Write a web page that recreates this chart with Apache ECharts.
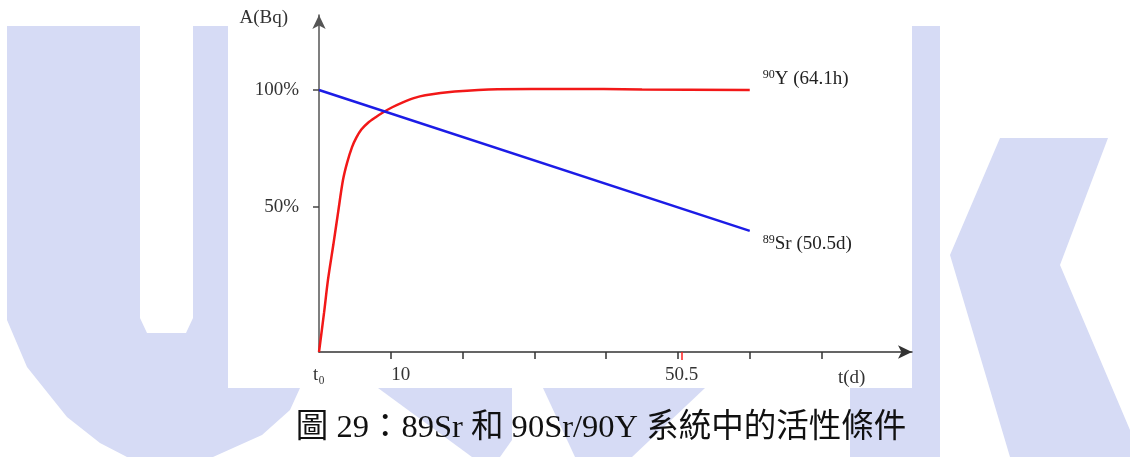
<!DOCTYPE html>
<html>
<head>
<meta charset="utf-8">
<script src="https://cdn.jsdelivr.net/npm/echarts@6/dist/echarts.min.js"></script>
<style>html,body{margin:0;padding:0;background:#fff}#c{width:1130px;height:457px}</style>
</head>
<body>
<div id="c"></div>
<script>
// ---- data (t in days, A relative to the 100% level, origin = 0) ----
var y90T = [0, 0.7, 1.25, 2.0, 2.65, 3.34, 3.9, 4.6, 5.2, 5.9, 6.8, 7.9, 8.9, 10.2, 11.6, 13.2, 14.8, 18.9, 24.9, 34.3, 45, 60];
var y90A = [0, 14.9, 27.5, 41.0, 53.1, 65.6, 72.1, 78.2, 81.8, 84.9, 87.4, 89.6, 91.4, 93.4, 95.2, 96.9, 98.0, 99.4, 100.3, 100.4, 100.2, 100];
var sr89T = [0, 60];
var sr89A = [100, 46.2];
var xTickValues = [10, 20, 30, 40, 50, 60, 70];
var xLabelValues = [0, 10, 50.5];
var xLabelTexts = ['t\u2080', '10', '50.5'];
var halfLifeTick = [50.5];
var yTickValues = [55.3, 100];
var yTickLabels = ['50%', '100%'];
var y90Label = '{s|90}Y (64.1h)';
var sr89Label = '{s|89}Sr (50.5d)';
var caption = '圖 29：89Sr 和 90Sr/90Y 系統中的活性條件';

function pairs(t, a) { return t.map(function (v, i) { return [v, a[i]]; }); }

var SERIF = '"Liberation Serif", "DejaVu Serif", "Noto Sans CJK TC", serif';
var WM = '#d6dbf5';
var chart = echarts.init(document.getElementById('c'));
var labelRich = { s: { fontSize: 12, fontFamily: SERIF, color: '#222', padding: [0, 0, 8, 0] } };

chart.setOption({
  backgroundColor: '#fff',
  animation: false,
  graphic: [
    { type: 'polygon', z: -10, silent: true, style: { fill: WM },
      shape: { points: [[7,26],[140,26],[140,318],[147,333],[186,333],[193,318],[193,26],[228,26],[228,388],[300,388],[290,410],[262,435],[213,457],[127,457],[100,443],[67,417],[27,367],[7,320]] } },
    { type: 'polygon', z: -10, silent: true, style: { fill: WM },
      shape: { points: [[378,388],[512,388],[512,440],[500,457],[472,457]] } },
    { type: 'polygon', z: -10, silent: true, style: { fill: WM },
      shape: { points: [[543,388],[705,388],[632,457],[575,457]] } },
    { type: 'polygon', z: -10, silent: true, style: { fill: WM },
      shape: { points: [[850,388],[912,388],[912,26],[940,26],[940,457],[850,457]] } },
    { type: 'polygon', z: -10, silent: true, style: { fill: WM },
      shape: { points: [[1000,138],[1108,138],[1060,265],[1130,430],[1130,457],[1010,457],[950,255]] } },
    { type: 'rect', z: -9, silent: true, shape: { x: 228, y: 0, width: 684, height: 388 }, style: { fill: '#fff' } },
    { type: 'text', z: 5, silent: true, x: 601, y: 428,
      style: { text: caption, font: '32.5px ' + SERIF, fill: '#111', align: 'center', verticalAlign: 'middle' } }
  ],
  grid: { left: 319, top: 15, width: 593, height: 337, containLabel: false },
  xAxis: [{
    type: 'value', min: 0, max: 82.6,
    name: 't(d)', nameLocation: 'end', nameGap: -74,
    nameTextStyle: { fontFamily: SERIF, fontSize: 19, color: '#333', align: 'left', verticalAlign: 'top', padding: [17, 0, 0, 0] },
    axisLine: { show: true, symbol: ['none', 'arrow'], symbolSize: [10, 14], lineStyle: { color: '#333', width: 1.5 } },
    axisTick: { show: true, customValues: xTickValues, length: 7, lineStyle: { color: '#333', width: 1.5 } },
    axisLabel: {
      show: true, customValues: xLabelValues, margin: 14,
      fontFamily: SERIF, fontSize: 19, color: '#333',
      formatter: function (v) {
        var i = xLabelValues.indexOf(v);
        var s = i >= 0 ? xLabelTexts[i] : '';
        return v === 10 ? '{p|' + s + '}' : s;
      },
      rich: { p: { fontFamily: SERIF, fontSize: 19, color: '#333', padding: [0, 0, 0, 20] } }
    },
    splitLine: { show: false }
  }, {
    type: 'value', min: 0, max: 82.6, position: 'bottom', gridIndex: 0,
    axisLine: { show: false },
    axisTick: { show: true, customValues: halfLifeTick, length: 8, lineStyle: { color: '#ff2020', width: 1.5 } },
    axisLabel: { show: false },
    splitLine: { show: false }
  }],
  yAxis: {
    type: 'value', min: 0, max: 128.6,
    name: 'A(Bq)', nameLocation: 'end', nameGap: -3,
    nameTextStyle: { fontFamily: SERIF, fontSize: 19, color: '#333', align: 'right', verticalAlign: 'middle', padding: [0, 31, 0, 0] },
    axisLine: { show: true, symbol: ['none', 'arrow'], symbolSize: [10, 14], lineStyle: { color: '#555', width: 1.5 } },
    axisTick: { show: true, customValues: yTickValues, length: 6, lineStyle: { color: '#444', width: 1.5 } },
    axisLabel: {
      show: true, customValues: yTickValues, margin: 20,
      fontFamily: SERIF, fontSize: 19, color: '#333',
      formatter: function (v) { var i = yTickValues.indexOf(v); return i >= 0 ? yTickLabels[i] : ''; }
    },
    splitLine: { show: false }
  },
  series: [{
    name: '90Y', type: 'line', data: pairs(y90T, y90A), smooth: 0.3,
    showSymbol: false, symbol: 'none', lineStyle: { color: '#f21818', width: 2.5 },
    endLabel: { show: true, formatter: y90Label, distance: 13, offset: [0, -11],
      fontFamily: SERIF, fontSize: 19, color: '#222', rich: labelRich }
  }, {
    name: '89Sr', type: 'line', data: pairs(sr89T, sr89A),
    showSymbol: false, symbol: 'none', lineStyle: { color: '#1c1ce6', width: 2.5 },
    endLabel: { show: true, formatter: sr89Label, distance: 13, offset: [0, 13],
      fontFamily: SERIF, fontSize: 19, color: '#222', rich: labelRich }
  }]
});
</script>
</body>
</html>
